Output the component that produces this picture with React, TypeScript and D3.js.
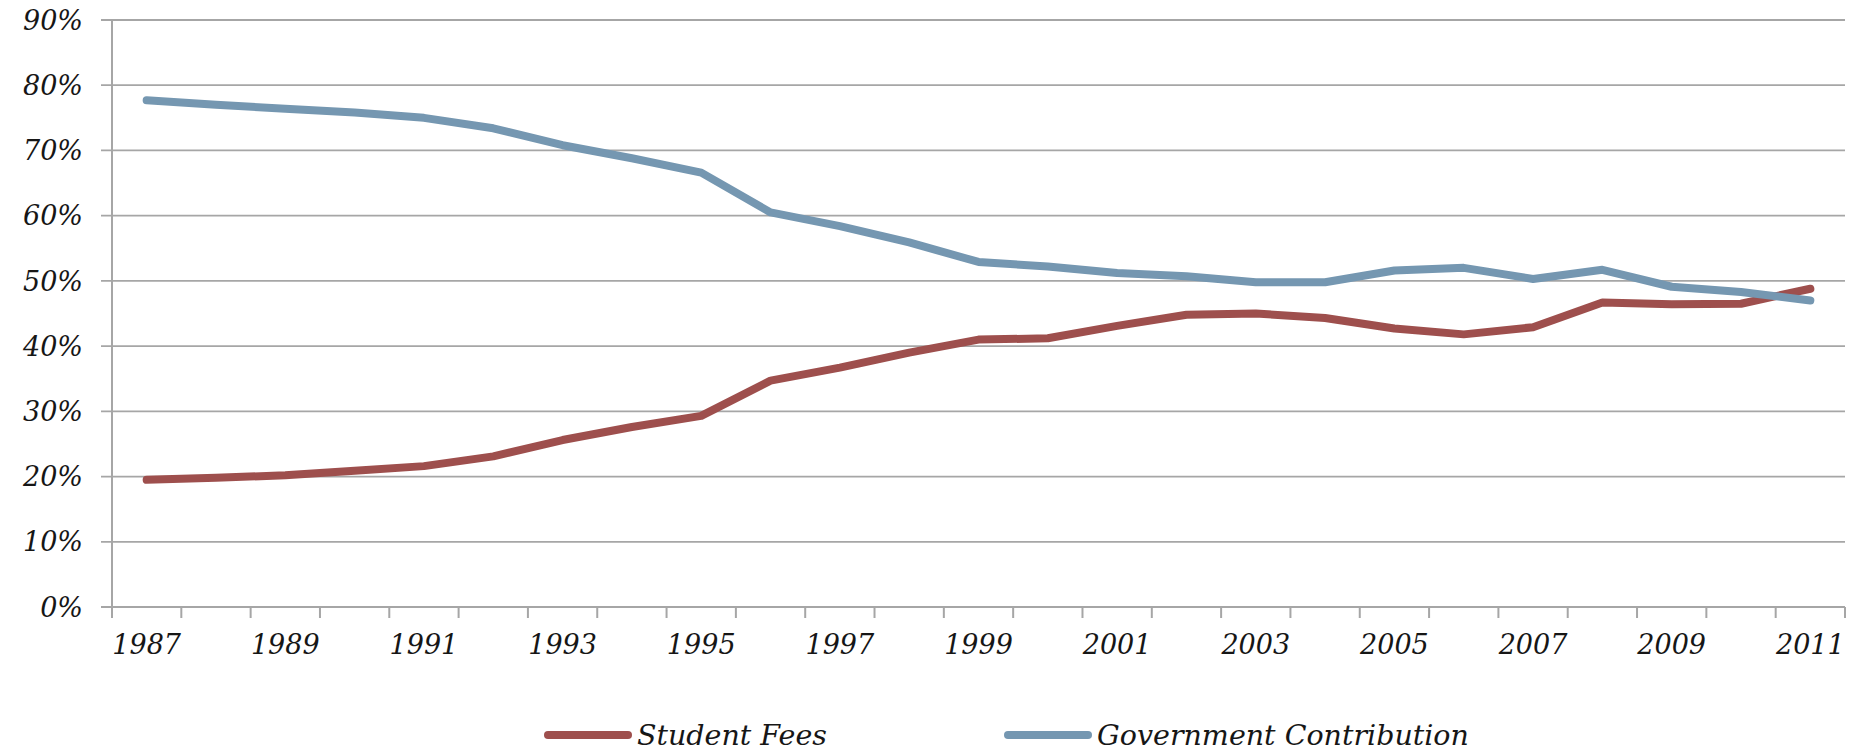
import React from "react";
import * as d3 from "d3";

const years = [1987,1988,1989,1990,1991,1992,1993,1994,1995,1996,1997,1998,1999,2000,2001,2002,2003,2004,2005,2006,2007,2008,2009,2010,2011];
const studentFees = [19.5,19.8,20.2,20.9,21.6,23.1,25.6,27.6,29.3,34.7,36.7,39.0,41.0,41.2,43.1,44.8,45.0,44.3,42.7,41.8,42.9,46.7,46.4,46.5,48.8];
const govContribution = [77.7,77.0,76.4,75.8,75.0,73.4,70.8,68.8,66.6,60.5,58.4,55.9,52.9,52.2,51.2,50.7,49.8,49.8,51.6,52.0,50.3,51.7,49.1,48.3,47.0];
const yTicks = [0,10,20,30,40,50,60,70,80,90];
const seriesNames = ["Student Fees", "Government Contribution"];
const seriesColors = ["#9e4f4d", "#7597b1"];

const W = 1860, H = 752;
const L = 112, R = 1845, T = 20, B = 607;
const FONT = "'DejaVu Serif', serif";

export default function App() {
  const x = d3.scaleBand<number>().domain(years).range([L, R]).padding(0);
  const y = d3.scaleLinear().domain([0, 90]).range([B, T]);
  const cx = (yr: number) => (x(yr) as number) + x.bandwidth() / 2;
  const line = d3.line<number>().x((_, i) => cx(years[i])).y((d) => y(d));
  const series = [studentFees, govContribution];
  const boundaries = [...years.map((yr) => x(yr) as number), R];

  return (
    <svg width={W} height={H} style={{ position: "absolute", left: 0, top: 0, background: "#fff" }}>
      {yTicks.map((t) => (
        <g key={t}>
          <line x1={L - 11} x2={R} y1={y(t)} y2={y(t)} stroke="#a6a6a6" strokeWidth={1.8} />
          <text x={83} y={y(t)} dy="0.36em" textAnchor="end" fontFamily={FONT} fontStyle="italic" fontSize={27} fill="#161616">
            {t}%
          </text>
        </g>
      ))}
      <line x1={L} x2={L} y1={T} y2={B} stroke="#a6a6a6" strokeWidth={2} />
      {boundaries.map((bx, i) => (
        <line key={i} x1={bx} x2={bx} y1={B} y2={B + 11} stroke="#a6a6a6" strokeWidth={2} />
      ))}
      {years.map((yr, i) =>
        i % 2 === 0 ? (
          <text key={yr} x={cx(yr)} y={B + 47} textAnchor="middle" fontFamily={FONT} fontStyle="italic" fontSize={27} fill="#161616">
            {yr}
          </text>
        ) : null
      )}
      {series.map((s, k) => (
        <path key={k} d={line(s) || ""} fill="none" stroke={seriesColors[k]} strokeWidth={8} strokeLinejoin="round" strokeLinecap="round" />
      ))}
      {[{ x1: 548, tx: 637 }, { x1: 1008, tx: 1097 }].map((lg, k) => (
        <g key={k}>
          <line x1={lg.x1} x2={lg.x1 + 80} y1={735} y2={735} stroke={seriesColors[k]} strokeWidth={8} strokeLinecap="round" />
          <text x={lg.tx} y={735} dy="0.36em" fontFamily={FONT} fontStyle="italic" fontSize={28.5} fill="#161616">
            {seriesNames[k]}
          </text>
        </g>
      ))}
    </svg>
  );
}
